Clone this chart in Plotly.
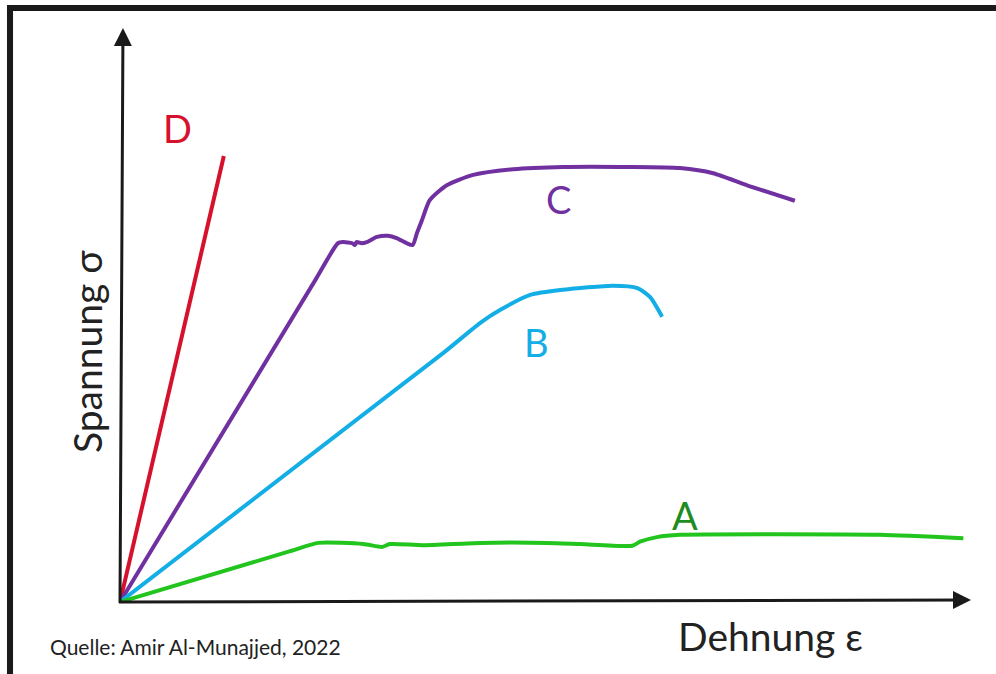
import plotly.graph_objects as go

# Schematic stress-strain curves (arbitrary units, axis range 0..100)
d_strain = [0, 12.2]
d_stress = [0, 77.7]

c_strain = [0, 23.0, 25.6, 26.2, 27.3, 27.6, 27.8, 28.4, 29.0, 30.2, 31.5, 32.5, 33.7, 34.4,
            34.9, 35.5, 36.4, 38.4, 41.5, 46.2, 52.1, 59.9, 65.8, 69.7, 73.7, 79.3]
c_stress = [0, 56.2, 62.5, 62.7, 62.5, 62.2, 62.7, 62.5, 62.7, 63.6, 63.8, 63.4, 62.5, 62.2,
            64.3, 66.6, 70.0, 72.6, 74.4, 75.4, 75.8, 75.8, 75.6, 74.7, 72.6, 69.9]

b_strain = [0, 38.0, 42.3, 44.7, 48.2, 52.1, 57.9, 60.8, 62.3, 63.7]
b_stress = [0, 43.4, 48.6, 50.9, 53.5, 54.4, 55.1, 54.7, 53.1, 49.7]

a_strain = [0, 20.0, 23.3, 28.6, 30.8, 31.7, 35.6, 42.3, 50.2, 54.1, 60.2, 61.1, 63.1, 65.8,
            77.6, 89.3, 99.1]
a_stress = [0, 8.85, 10.3, 10.1, 9.6, 10.1, 9.9, 10.3, 10.3, 10.1, 9.8, 10.5, 11.3, 11.7,
            11.8, 11.7, 11.1]

series = [
    ("D", d_strain, d_stress, "#d6112e"),
    ("C", c_strain, c_stress, "#7030a0"),
    ("B", b_strain, b_stress, "#14aee6"),
    ("A", a_strain, a_stress, "#22c41e"),
]

labels = [
    ("D", 6.7, 82.6, "#d6112e"),
    ("C", 51.5, 70.2, "#7030a0"),
    ("B", 48.9, 45.3, "#14aee6"),
    ("A", 66.4, 15.2, "#1f8c1f"),
]

FONT = "Lato"
TEXT = "#222222"

fig = go.Figure()
for name, xs, ys, col in series:
    fig.add_trace(go.Scatter(
        x=xs, y=ys, mode="lines", name=name,
        line=dict(color=col, width=4, shape="spline", smoothing=0.6),
        hoverinfo="skip", showlegend=False,
    ))

annotations = []
for txt, x, y, col in labels:
    annotations.append(dict(x=x, y=y, xref="x", yref="y", text=txt, showarrow=False,
                            xanchor="center", yanchor="middle",
                            font=dict(family=FONT, size=38, color=col)))

# Axis arrows
annotations.append(dict(x=100, y=0.35, ax=-0.3, ay=0, xref="x", yref="y", axref="x", ayref="y",
                        text="", showarrow=True, arrowhead=2, arrowsize=1.2, arrowwidth=3,
                        arrowcolor="#1a1a1a", standoff=0))
annotations.append(dict(x=0.35, y=100, ax=0, ay=-0.4, xref="x", yref="y", axref="x", ayref="y",
                        text="", showarrow=True, arrowhead=2, arrowsize=1.2, arrowwidth=3,
                        arrowcolor="#1a1a1a", standoff=0))

# Axis titles and source line (paper coordinates, outside the plotting area)
annotations.append(dict(x=0.764, y=-0.059, xref="paper", yref="paper", text="Dehnung ε",
                        showarrow=False, xanchor="center", yanchor="middle",
                        font=dict(family=FONT, size=39, color=TEXT)))
annotations.append(dict(x=-0.039, y=0.437, xref="paper", yref="paper", text="Spannung σ",
                        showarrow=False, textangle=-90, xanchor="center", yanchor="middle",
                        font=dict(family=FONT, size=39, color=TEXT)))
annotations.append(dict(x=-0.0846, y=-0.077, xref="paper", yref="paper",
                        text="Quelle: Amir Al-Munajjed, 2022", showarrow=False,
                        xanchor="left", yanchor="middle",
                        font=dict(family=FONT, size=21, color=TEXT)))

# Frame on the top and left edges
shapes = [
    dict(type="rect", xref="paper", yref="paper", x0=-0.1328, x1=-0.1257, y0=-0.2, y1=1.04,
         fillcolor="#1a1a1a", line=dict(width=0), layer="above"),
    dict(type="rect", xref="paper", yref="paper", x0=-0.1328, x1=1.1, y0=1.0296, y1=1.040,
         fillcolor="#1a1a1a", line=dict(width=0), layer="above"),
]

fig.update_layout(
    width=996, height=674,
    margin=dict(l=120, r=25, t=28, b=72),
    paper_bgcolor="white", plot_bgcolor="white",
    xaxis=dict(range=[0, 100], visible=False, fixedrange=True),
    yaxis=dict(range=[0, 100], visible=False, fixedrange=True),
    annotations=annotations,
    shapes=shapes,
)

fig.write_html("out.html")
